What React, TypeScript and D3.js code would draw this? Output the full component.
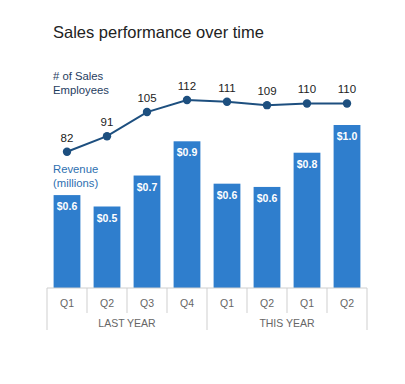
import * as d3 from "d3";
import { useEffect, useRef } from "react";

const quarters = ["Q1", "Q2", "Q3", "Q4", "Q1", "Q2", "Q1", "Q2"];
const years = ["LAST YEAR", "THIS YEAR"];
const yearSpan = [4, 4];
const revenue = [0.57, 0.5, 0.69, 0.9, 0.64, 0.62, 0.83, 1.0];
const employees = [82, 91, 105, 112, 111, 109, 110, 110];

export default function App() {
  const ref = useRef<SVGSVGElement | null>(null);

  useEffect(() => {
    if (!ref.current) return;
    const svg = d3.select(ref.current);
    svg.selectAll("*").remove();

    const font = "'Liberation Sans', Arial, sans-serif";
    const barColor = "#2f7ecd";
    const lineColor = "#1d4f7f";
    const baseY = 288;

    const idx = quarters.map((_, i) => i);
    const x = d3.scaleBand<number>().domain(idx).range([47, 367]).paddingInner(0.33).paddingOuter(0.165);
    const yRev = d3.scaleLinear().domain([0, 1.0]).range([baseY, 125]);
    const yEmp = d3.scaleLinear().domain([82, 112]).range([151.7, 100]);
    const cx = (i: number) => (x(i) ?? 0) + x.bandwidth() / 2;

    svg
      .append("text")
      .attr("x", 53)
      .attr("y", 38)
      .attr("font-family", font)
      .attr("font-size", 16.5)
      .attr("fill", "#222")
      .text("Sales performance over time");

    // bars
    svg
      .selectAll("rect.bar")
      .data(revenue)
      .join("rect")
      .attr("class", "bar")
      .attr("x", (_, i) => x(i) ?? 0)
      .attr("y", (d) => yRev(d))
      .attr("width", x.bandwidth())
      .attr("height", (d) => baseY - yRev(d))
      .attr("fill", barColor);

    svg
      .selectAll("text.bl")
      .data(revenue)
      .join("text")
      .attr("class", "bl")
      .attr("x", (_, i) => cx(i))
      .attr("y", (d) => yRev(d) + 15)
      .attr("text-anchor", "middle")
      .attr("font-family", font)
      .attr("font-size", 10.5)
      .attr("font-weight", "bold")
      .attr("fill", "#fff")
      .text((d) => "$" + d3.format(".1f")(d));

    // line
    const line = d3
      .line<number>()
      .x((_, i) => cx(i))
      .y((d) => yEmp(d));
    svg.append("path").datum(employees).attr("d", line).attr("fill", "none").attr("stroke", lineColor).attr("stroke-width", 2);
    svg
      .selectAll("circle.pt")
      .data(employees)
      .join("circle")
      .attr("class", "pt")
      .attr("cx", (_, i) => cx(i))
      .attr("cy", (d) => yEmp(d))
      .attr("r", 4.2)
      .attr("fill", lineColor);
    svg
      .selectAll("text.pl")
      .data(employees)
      .join("text")
      .attr("class", "pl")
      .attr("x", (_, i) => cx(i))
      .attr("y", (d) => yEmp(d) - 10)
      .attr("text-anchor", "middle")
      .attr("font-family", font)
      .attr("font-size", 11.5)
      .attr("fill", "#222")
      .text((d) => d);

    // series labels
    const lab = (lines: string[], y0: number, color: string) =>
      lines.forEach((t, k) =>
        svg
          .append("text")
          .attr("x", 53)
          .attr("y", y0 + k * 13.5)
          .attr("font-family", font)
          .attr("font-size", 11.3)
          .attr("fill", color)
          .text(t)
      );
    lab(["# of Sales", "Employees"], 80, "#1f3d5f");
    lab(["Revenue", "(millions)"], 173, "#2e6fb0");

    // axis
    const grid = "#cfcfcf";
    svg.append("line").attr("x1", 47).attr("x2", 367).attr("y1", baseY).attr("y2", baseY).attr("stroke", grid);
    const step = x.step();
    let start = 0;
    const edges = [0];
    yearSpan.forEach((n) => {
      start += n;
      edges.push(start);
    });
    const bx = (i: number) => 47 + i * step;
    idx.concat([quarters.length]).forEach((i) => {
      const long = edges.includes(i);
      svg
        .append("line")
        .attr("x1", bx(i))
        .attr("x2", bx(i))
        .attr("y1", baseY)
        .attr("y2", long ? 330 : 313)
        .attr("stroke", grid);
    });
    svg
      .selectAll("text.q")
      .data(quarters)
      .join("text")
      .attr("class", "q")
      .attr("x", (_, i) => cx(i))
      .attr("y", 307)
      .attr("text-anchor", "middle")
      .attr("font-family", font)
      .attr("font-size", 10.5)
      .attr("fill", "#666")
      .text((d) => d);
    svg
      .selectAll("text.yr")
      .data(years)
      .join("text")
      .attr("class", "yr")
      .attr("x", (_, k) => (bx(edges[k]) + bx(edges[k + 1])) / 2)
      .attr("y", 327)
      .attr("text-anchor", "middle")
      .attr("font-family", font)
      .attr("font-size", 10.5)
      .attr("fill", "#666")
      .text((d) => d);
  }, []);

  return (
    <svg
      ref={ref}
      width={405}
      height={384}
      style={{ position: "absolute", left: 0, top: 0, background: "#fff" }}
      role="img"
      aria-label="Sales performance over time"
    />
  );
}
